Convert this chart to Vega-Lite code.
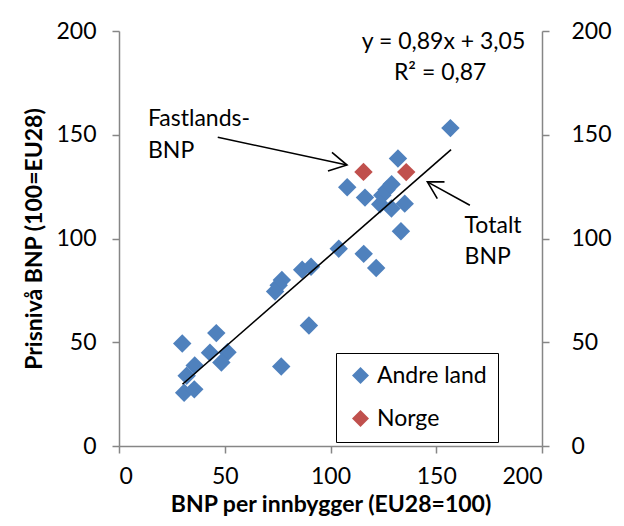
{
  "$schema": "https://vega.github.io/schema/vega-lite/v6.json",
  "width": 423,
  "height": 415,
  "autosize": {"type": "none"},
  "padding": {"left": 119, "top": 31, "right": 82, "bottom": 80},
  "background": "white",
  "config": {
    "view": {"stroke": null},
    "font": "Lato",
    "axis": {
      "grid": false,
      "domainColor": "#868686",
      "domainWidth": 1.5,
      "tickColor": "#868686",
      "tickWidth": 1.5,
      "tickSize": 7,
      "labelFont": "Lato",
      "labelFontSize": 23,
      "labelColor": "black",
      "titleFont": "Lato",
      "titleFontSize": 23,
      "titleFontWeight": "bold",
      "titleColor": "black"
    },
    "legend": {
      "labelFont": "Lato",
      "labelFontSize": 23,
      "labelColor": "black"
    }
  },
  "datasets": {
    "points": [
      {"serie": "Andre land", "bnp": 156.7, "pris": 153.2},
      {"serie": "Andre land", "bnp": 131.9, "pris": 138.6},
      {"serie": "Andre land", "bnp": 107.9, "pris": 124.7},
      {"serie": "Andre land", "bnp": 128.9, "pris": 126.2},
      {"serie": "Andre land", "bnp": 126.5, "pris": 123.5},
      {"serie": "Andre land", "bnp": 116.3, "pris": 119.7},
      {"serie": "Andre land", "bnp": 124.5, "pris": 120.8},
      {"serie": "Andre land", "bnp": 123.5, "pris": 116.5},
      {"serie": "Andre land", "bnp": 128.8, "pris": 114.5},
      {"serie": "Andre land", "bnp": 135.1, "pris": 116.8},
      {"serie": "Andre land", "bnp": 133.3, "pris": 103.5},
      {"serie": "Andre land", "bnp": 103.9, "pris": 95.1},
      {"serie": "Andre land", "bnp": 115.7, "pris": 92.6},
      {"serie": "Andre land", "bnp": 121.6, "pris": 85.8},
      {"serie": "Andre land", "bnp": 86.6, "pris": 84.9},
      {"serie": "Andre land", "bnp": 90.8, "pris": 86.4},
      {"serie": "Andre land", "bnp": 77.0, "pris": 80.0},
      {"serie": "Andre land", "bnp": 75.5, "pris": 77.5},
      {"serie": "Andre land", "bnp": 73.8, "pris": 74.5},
      {"serie": "Andre land", "bnp": 89.8, "pris": 58.1},
      {"serie": "Andre land", "bnp": 76.7, "pris": 38.3},
      {"serie": "Andre land", "bnp": 46.0, "pris": 54.4},
      {"serie": "Andre land", "bnp": 29.9, "pris": 49.4},
      {"serie": "Andre land", "bnp": 43.0, "pris": 45.0},
      {"serie": "Andre land", "bnp": 51.3, "pris": 45.2},
      {"serie": "Andre land", "bnp": 48.4, "pris": 40.2},
      {"serie": "Andre land", "bnp": 35.8, "pris": 38.8},
      {"serie": "Andre land", "bnp": 32.0, "pris": 33.9},
      {"serie": "Andre land", "bnp": 30.8, "pris": 25.7},
      {"serie": "Andre land", "bnp": 35.6, "pris": 27.3},
      {"serie": "Norge", "bnp": 115.6, "pris": 132.1},
      {"serie": "Norge", "bnp": 135.8, "pris": 132.0}
    ],
    "lines": [
      {"g": "trend", "o": 1, "bnp": 30, "pris": 29.75},
      {"g": "trend", "o": 2, "bnp": 157, "pris": 142.8},
      {"g": "arrow1", "o": 1, "bnp": 46.7, "pris": 148.8},
      {"g": "arrow1", "o": 2, "bnp": 107.8, "pris": 135.4},
      {"g": "head1", "o": 1, "bnp": 100.7, "pris": 141.5},
      {"g": "head1", "o": 2, "bnp": 107.8, "pris": 135.4},
      {"g": "head1", "o": 3, "bnp": 98.8, "pris": 132.5},
      {"g": "arrow2", "o": 1, "bnp": 165.9, "pris": 116.0},
      {"g": "arrow2", "o": 2, "bnp": 145.8, "pris": 127.3},
      {"g": "head2", "o": 1, "bnp": 153.9, "pris": 127.3},
      {"g": "head2", "o": 2, "bnp": 145.8, "pris": 127.3},
      {"g": "head2", "o": 3, "bnp": 150.5, "pris": 119.2}
    ],
    "labels": [
      {"txt": "Fastlands-", "bnp": 13.7, "pris": 157.4},
      {"txt": "BNP", "bnp": 13.7, "pris": 142.0},
      {"txt": "Totalt", "bnp": 163.4, "pris": 106.1},
      {"txt": "BNP", "bnp": 163.4, "pris": 91.0},
      {"txt": "y = 0,89x + 3,05", "bnp": 114.8, "pris": 194.6},
      {"txt": "R² = 0,87", "bnp": 130.0, "pris": 180.0}
    ]
  },
  "layer": [
    {
      "data": {"name": "points"},
      "mark": {"type": "point", "shape": "diamond", "filled": true, "size": 340, "opacity": 1, "strokeWidth": 0},
      "encoding": {
        "x": {
          "field": "bnp", "type": "quantitative",
          "scale": {"domain": [0, 200], "nice": false, "zero": true},
          "axis": {"orient": "bottom", "values": [0, 50, 100, 150, 200], "title": "BNP per innbygger (EU28=100)", "labelPadding": 12, "titlePadding": 5}
        },
        "y": {
          "field": "pris", "type": "quantitative",
          "scale": {"domain": [0, 200], "nice": false},
          "axis": {"orient": "left", "values": [0, 50, 100, 150, 200], "title": "Prisnivå BNP (100=EU28)", "labelPadding": 16, "titlePadding": 9}
        },
        "color": {
          "field": "serie", "type": "nominal",
          "scale": {"domain": ["Andre land", "Norge"], "range": ["#4F81BD", "#C0504D"]},
          "legend": {
            "title": null,
            "orient": "none",
            "legendX": 217,
            "legendY": 322,
            "padding": 11,
            "symbolType": "diamond",
            "symbolSize": 290,
            "symbolStrokeWidth": 0,
            "symbolOffset": 2,
            "labelOffset": 5,
            "rowPadding": 19,
            "strokeColor": "black",
            "fillColor": "white"
          }
        }
      }
    },
    {
      "data": {"name": "lines"},
      "mark": {"type": "line", "color": "black", "strokeWidth": 1.6},
      "encoding": {
        "x": {"field": "bnp", "type": "quantitative"},
        "y": {
          "field": "pris", "type": "quantitative",
          "axis": {"orient": "right", "values": [0, 50, 100, 150, 200], "title": null, "labelPadding": 22}
        },
        "detail": {"field": "g"},
        "order": {"field": "o", "type": "quantitative"}
      }
    },
    {
      "data": {"name": "labels"},
      "mark": {"type": "text", "fontSize": 23, "font": "Lato", "color": "black", "baseline": "middle", "align": "left"},
      "encoding": {
        "x": {"field": "bnp", "type": "quantitative"},
        "y": {"field": "pris", "type": "quantitative", "axis": null},
        "text": {"field": "txt"}
      }
    }
  ],
  "resolve": {"axis": {"y": "independent"}}
}
